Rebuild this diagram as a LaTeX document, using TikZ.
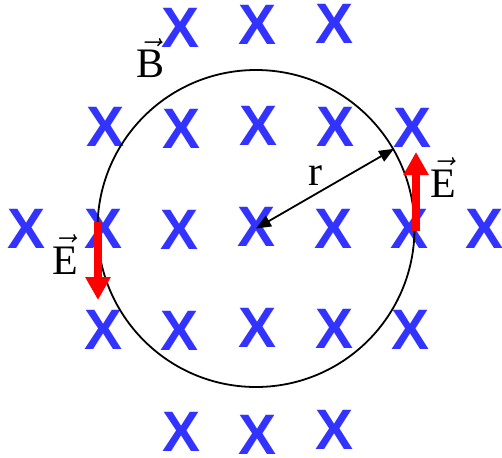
\documentclass[tikz,border=0pt]{standalone}
\usepackage{fix-cm}
\usepackage{amsmath}
\usepackage{fontspec}
\setmainfont{Liberation Serif}
\newfontfamily\crossfont{Liberation Sans}
\definecolor{fieldblue}{RGB}{51,51,255}
\usetikzlibrary{arrows.meta}

\begin{document}
\begin{tikzpicture}[x=1pt,y=-1pt,
  fieldx/.style={inner sep=0pt,text=fieldblue,font=\crossfont\bfseries\fontsize{57}{60}\selectfont},
  vlabel/.style={inner sep=0pt,anchor=base,font=\fontsize{42}{48}\selectfont},
  efield/.style={red,line width=8pt,-{Triangle[length=23pt,width=24pt]}}]
  \useasboundingbox (0,0) rectangle (502,457);
  % B field into the page
  \foreach \n/\x/\y in {a1/181/27.5, a2/258/24.5, a3/335/24,
      b1/106/127, b2/182/129, b3/259/126, b4/336/127, b5/413/128,
      c1/27/229, c2/104/229, c3/180/230, c4/257/227, c5/334/229, c6/410/229, c7/484/229,
      d1/104/329.5, d2/180/330.5, d3/258/328, d4/335/329, d5/411/330,
      e1/182/432, e2/258/435, e3/335/430}{
    \node[fieldx] (x\n) at (\x,\y) {X};
  }
  % loop and radius
  \node[circle,draw,line width=1.8pt,minimum size=317pt,inner sep=0pt] (loop) at (256,228.5) {};
  \draw[{Triangle[length=15pt,width=12pt]}-{Triangle[length=15pt,width=12pt]},line width=1.8pt]
    (loop.center) -- (loop.30);
  % induced E field
  \coordinate (eup0) at (416,231);
  \coordinate (eup1) at (416,152);
  \coordinate (edn0) at (98,222);
  \coordinate (edn1) at (98,300);
  \draw[efield] (eup0) -- (eup1);
  \draw[efield] (edn0) -- (edn1);
  % labels
  \node[vlabel] (blab) at (150.5,78) {$\vec{\text{B}}$};
  \node[vlabel] (rlab) at (315.5,185) {r};
  \node[vlabel] (erlab) at (443.5,197) {$\vec{\text{E}}$};
  \node[vlabel] (ellab) at (65,274) {$\vec{\text{E}}$};
\end{tikzpicture}
\end{document}
